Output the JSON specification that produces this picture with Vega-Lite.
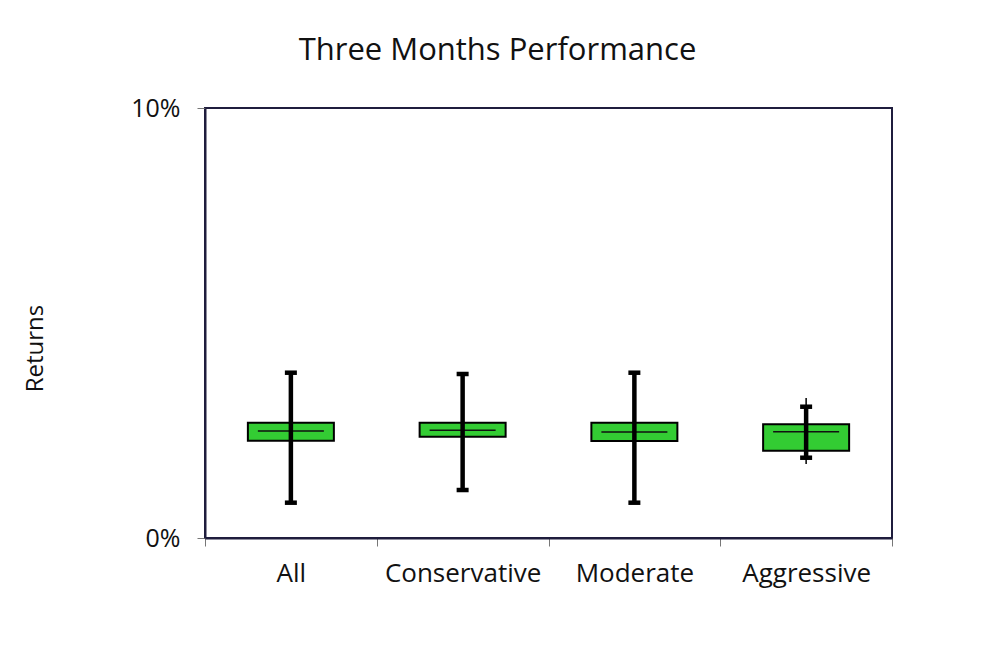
{
  "$schema": "https://vega.github.io/schema/vega-lite/v6.json",
  "width": 687,
  "height": 430,
  "autosize": {"type": "none"},
  "padding": {"left": 205, "top": 108, "right": 109, "bottom": 134},
  "background": "white",
  "title": {
    "text": "Three Months Performance",
    "font": "Open Sans",
    "fontSize": 31,
    "fontWeight": "normal",
    "color": "#111111",
    "anchor": "middle",
    "baseline": "alphabetic",
    "offset": 5,
    "dx": -51
  },
  "data": {
    "values": [
      {"portfolio": "All", "min": 0.821, "lo": 0.821, "q1": 2.263, "median": 2.488, "q3": 2.681, "hi": 3.844, "max": 3.844},
      {"portfolio": "Conservative", "min": 1.116, "lo": 1.116, "q1": 2.356, "median": 2.505, "q3": 2.681, "hi": 3.814, "max": 3.814},
      {"portfolio": "Moderate", "min": 0.821, "lo": 0.821, "q1": 2.256, "median": 2.465, "q3": 2.681, "hi": 3.844, "max": 3.844},
      {"portfolio": "Aggressive", "min": 1.721, "lo": 1.867, "q1": 2.03, "median": 2.472, "q3": 2.644, "hi": 3.053, "max": 3.256}
    ]
  },
  "encoding": {
    "x": {
      "field": "portfolio",
      "type": "nominal",
      "sort": null,
      "scale": {"paddingInner": 0, "paddingOuter": 0},
      "axis": {
        "title": null,
        "labelAngle": 0,
        "labelFont": "Open Sans",
        "labelFontSize": 26,
        "labelFontWeight": "normal",
        "labelColor": "#111111",
        "labelBaseline": "alphabetic",
        "labelPadding": 35,
        "tickBand": "extent",
        "tickSize": 8,
        "tickColor": "#777777",
        "tickWidth": 1,
        "domainColor": "#1f1d3d",
        "domainWidth": 2
      }
    }
  },
  "layer": [
    {
      "mark": {"type": "rule", "color": "#000000", "strokeWidth": 1.5},
      "encoding": {
        "y": {
          "field": "min",
          "type": "quantitative",
          "scale": {"domain": [0, 10], "nice": false},
          "axis": {
            "title": "Returns",
            "titleFont": "Open Sans",
            "titleFontSize": 24,
            "titleFontWeight": "normal",
            "titleColor": "#111111",
            "titleAngle": -90,
            "titleX": -170,
            "titleY": 240,
            "titleAlign": "center",
            "titleBaseline": "middle",
            "values": [0, 10],
            "labelExpr": "datum.value + '%'",
            "labelFont": "Open Sans",
            "labelFontSize": 25,
            "labelFontWeight": "normal",
            "labelColor": "#111111",
            "labelPadding": 17,
            "tickSize": 8,
            "tickColor": "#777777",
            "tickWidth": 1,
            "grid": false,
            "domainColor": "#1f1d3d",
            "domainWidth": 2
          }
        },
        "y2": {"field": "max"}
      }
    },
    {
      "mark": {"type": "bar", "fill": "#33cc33", "stroke": "#000000", "strokeWidth": 2, "size": 86},
      "encoding": {
        "y": {"field": "q1", "type": "quantitative"},
        "y2": {"field": "q3"}
      }
    },
    {
      "mark": {"type": "tick", "color": "#111111", "size": 66, "thickness": 1.5, "opacity": 1},
      "encoding": {"y": {"field": "median", "type": "quantitative"}}
    },
    {
      "mark": {"type": "rule", "color": "#000000", "strokeWidth": 4.5},
      "encoding": {
        "y": {"field": "lo", "type": "quantitative"},
        "y2": {"field": "hi"}
      }
    },
    {
      "mark": {"type": "tick", "color": "#000000", "size": 12, "thickness": 4.5, "opacity": 1},
      "encoding": {"y": {"field": "lo", "type": "quantitative"}}
    },
    {
      "mark": {"type": "tick", "color": "#000000", "size": 12, "thickness": 4.5, "opacity": 1},
      "encoding": {"y": {"field": "hi", "type": "quantitative"}}
    }
  ],
  "config": {
    "view": {"stroke": "#1f1d3d", "strokeWidth": 2}
  }
}
